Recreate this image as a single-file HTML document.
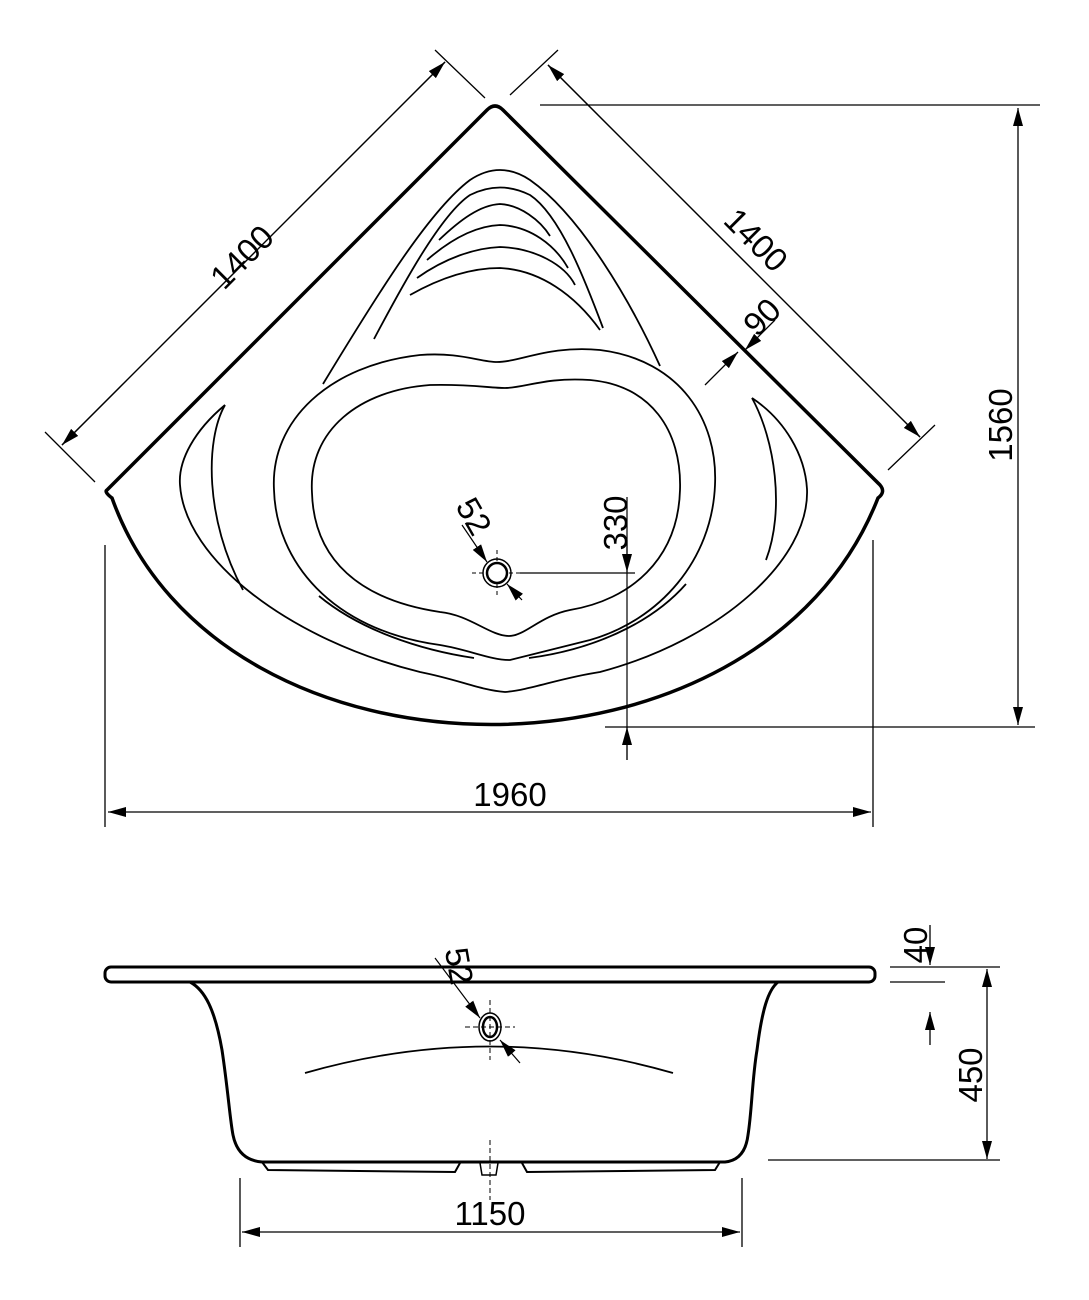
<!DOCTYPE html>
<html><head><meta charset="utf-8"><style>
html,body{margin:0;padding:0;background:#fff;}
svg{display:block}
text{font-family:"Liberation Sans",sans-serif;font-size:33px;fill:#000}
</style></head><body>
<svg width="1089" height="1300" viewBox="0 0 1089 1300" xmlns="http://www.w3.org/2000/svg">
<defs>
<marker id="a" markerWidth="18" markerHeight="10" refX="18" refY="5" orient="auto" markerUnits="userSpaceOnUse"><path d="M0,0 L18,5 L0,10 z" fill="#000"/></marker>
</defs>
<g fill="none" stroke="#000">
<path d="M107,490 L487,110 Q495,102 503,110 L880,485 Q886,492 878,498 C760,800 220,800 112,498 Q104,492 107,490 Z" stroke-width="3.5"/>
<g stroke-width="1.8">
<path d="M323,384 C380,290 430,210 470,180 Q500,160 530,180 C580,215 630,300 660,366"/>
<path d="M374,339 C400,290 440,215 470,195 Q500,180 530,195 C560,215 585,280 603,328"/>
<path d="M439,240 C460,220 480,205 500,204 C520,205 540,220 550,236"/>
<path d="M427,260 C450,240 475,226 500,225 C530,226 555,245 568,268"/>
<path d="M417,278 C445,258 475,248 500,247 C535,248 565,265 575,285"/>
<path d="M410,295 C440,278 470,268 500,268 C540,270 575,295 600,330"/>
<path d="M274,490 C270,420 330,365 420,355 C460,352 480,362 497,362 C520,362 550,345 600,350 C680,360 718,420 715,485 C712,560 660,620 590,640 C550,650 530,655 510,660 C490,660 470,650 440,645 C330,630 276,560 274,490 Z"/>
<path d="M312,493 C308,430 360,390 430,385 C470,384 490,388 505,388 C525,388 545,377 590,380 C650,385 682,430 680,490 C678,560 630,600 570,610 C540,616 525,636 509,636 C490,636 470,615 440,612 C360,600 314,560 312,493 Z"/>
<path d="M225,405 C195,430 178,460 180,485 C185,560 290,640 420,672 C460,680 480,690 505,692 C530,690 560,678 600,672 C720,640 810,560 807,489 C805,455 785,420 752,398"/>
<path d="M225,405 C205,440 205,520 243,590"/>
<path d="M752,398 C775,440 785,510 766,560"/>
<path d="M319,596 C360,630 420,650 474,658"/>
<path d="M529,658 C590,650 650,625 686,584"/>
</g>
<circle cx="497" cy="573" r="14" stroke-width="1.5"/>
<circle cx="497" cy="573" r="10" stroke-width="2.5"/>
<path d="M472,573 H485 M509,573 H520 M497,550 V562 M497,584 V596" stroke-width="1" stroke-dasharray="4,3"/>
<path d="M462,525 L487,562" stroke-width="1.2" marker-end="url(#a)"/>
<path d="M522,600 L507,584" stroke-width="1.2" marker-end="url(#a)"/>
<path d="M520,573 H635 M627,497 V760" stroke-width="1.2"/>
<path d="M627,540 V572" stroke-width="1.2" marker-end="url(#a)"/>
<path d="M627,760 V727" stroke-width="1.2" marker-end="url(#a)"/>
<g stroke-width="1.3">
<path d="M62,445 L445,62" marker-end="url(#a)"/>
<path d="M445,62 L62,445" marker-end="url(#a)"/>
<path d="M45,432 L95,482 M435,50 L485,98"/>
<path d="M548,65 L920,437" marker-end="url(#a)"/>
<path d="M920,437 L548,65" marker-end="url(#a)"/>
<path d="M510,95 L558,50 M888,470 L935,425"/>
<path d="M705,385 L738,352" marker-end="url(#a)"/>
<path d="M775,320 L745,350" marker-end="url(#a)"/>
<path d="M540,105 H1040 M605,727 H1035"/>
<path d="M1018,420 V108" marker-end="url(#a)"/>
<path d="M1018,420 V725" marker-end="url(#a)"/>
<path d="M105,545 V827 M873,540 V827"/>
<path d="M490,812 H108" marker-end="url(#a)"/>
<path d="M490,812 H871" marker-end="url(#a)"/>
</g>
<rect x="105" y="967" width="770" height="15" rx="6" stroke-width="3"/>
<path d="M190,982 C205,990 215,1010 222,1050 C228,1090 230,1120 233,1135 Q238,1160 262,1162 L725,1162 Q745,1160 748,1135 C752,1110 752,1080 757,1050 C762,1010 768,990 778,982" stroke-width="3"/>
<path d="M262,1162 L268,1170 L455,1172 L460,1163 M522,1163 L527,1172 L715,1170 L720,1162" stroke-width="2"/>
<path d="M480,1163 L482,1175 L496,1175 L498,1163" stroke-width="1.5"/>
<path d="M305,1073 Q490,1020 673,1073" stroke-width="1.8"/>
<ellipse cx="490" cy="1027" rx="11" ry="14" stroke-width="1.5"/>
<ellipse cx="490" cy="1027" rx="7" ry="10" stroke-width="2.5"/>
<path d="M465,1027 H515 M490,1000 V1060 M490,1140 V1200" stroke-width="1" stroke-dasharray="5,3"/>
<path d="M435,958 L480,1018" stroke-width="1.2" marker-end="url(#a)"/>
<path d="M520,1063 L500,1040" stroke-width="1.2" marker-end="url(#a)"/>
<g stroke-width="1.3">
<path d="M890,967 H1000 M890,982 H945 M768,1160 H1000"/>
<path d="M930,925 V965" marker-end="url(#a)"/>
<path d="M930,1045 V1012" marker-end="url(#a)"/>
<path d="M987,1065 V969" marker-end="url(#a)"/>
<path d="M987,1065 V1159" marker-end="url(#a)"/>
<path d="M240,1178 V1247 M742,1178 V1247"/>
<path d="M490,1232 H242" marker-end="url(#a)"/>
<path d="M490,1232 H740" marker-end="url(#a)"/>
</g>
</g>
<text transform="translate(250,265) rotate(-45)" text-anchor="middle">1400</text>
<text transform="translate(748,248) rotate(45)" text-anchor="middle">1400</text>
<text transform="translate(770,325) rotate(-45)" text-anchor="middle">90</text>
<text transform="translate(1012,425) rotate(-90)" text-anchor="middle">1560</text>
<text x="510" y="806" text-anchor="middle">1960</text>
<text transform="translate(627,523) rotate(-90)" text-anchor="middle">330</text>
<text transform="translate(464,522) rotate(60)" text-anchor="middle">52</text>
<text transform="translate(448,968) rotate(80)" text-anchor="middle">52</text>
<text transform="translate(927,945) rotate(-90)" text-anchor="middle">40</text>
<text transform="translate(982,1075) rotate(-90)" text-anchor="middle">450</text>
<text x="490" y="1225" text-anchor="middle">1150</text>
</svg>
</body></html>
